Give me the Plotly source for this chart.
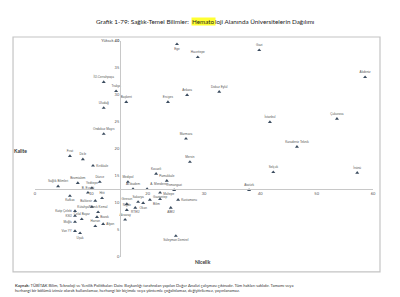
import plotly.graph_objects as go

# ---- data ----
universities = [
    "Ege", "Hacettepe", "Gazi", "Akdeniz", "İÜ-Cerrahpaşa", "Trakya", "Başkent", "Erciyes",
    "Ankara", "Dokuz Eylül", "Uludağ", "Ondokuz Mayıs", "Marmara", "İstanbul", "Çukurova",
    "Karadeniz Teknik", "Selçuk", "Atatürk", "Mersin", "İnönü", "Kocaeli", "Pamukkale",
    "A. Menderes", "Osmangazi", "Gaziantep", "Fırat", "Dicle", "Kırıkkale", "Medipol",
    "Düzce", "Bezmialem", "Sağlık Bilimleri", "Yeditepe", "Acıbadem", "Kafkas",
    "B. Ecevit", "Balıkesir", "Hitit", "Kütahya", "Katip Çelebi", "Namık Kemal",
    "KSÜ", "Bozok", "Muğla", "Celal Bayar", "Harran", "Afyon", "Van YY", "Uşak",
    "Giresun", "Niğde", "Aksaray", "Sakarya", "Bilim", "Okan", "Maltepe", "Kastamonu",
    "AİBÜ", "RTEÜ", "Süleyman Demirel",
]
nicelik = [
    25.2, 28.9, 39.8, 58.6, 12.2, 14.4, 16.2, 23.6,
    27.0, 32.7, 12.2, 12.2, 26.8, 41.7, 53.6,
    46.5, 42.3, 38.0, 27.5, 57.2, 21.5, 23.4,
    19.9, 24.7, 22.2, 6.2, 8.5, 10.3, 16.5,
    11.5, 7.6, 4.1, 10.1, 17.4, 6.2,
    9.4, 10.7, 11.9, 10.1, 7.1, 11.2,
    7.1, 11.0, 7.1, 8.3, 10.7, 12.1, 7.1, 8.0,
    16.3, 16.3, 16.0, 18.3, 20.4, 19.2, 22.2, 25.4,
    24.1, 17.8, 25.0,
]
kalite = [
    39.4, 37.0, 38.3, 33.3, 32.4, 30.7, 28.7, 28.7,
    30.0, 30.6, 27.6, 22.8, 21.9, 25.0, 25.6,
    20.4, 15.7, 12.4, 17.6, 15.6, 15.4, 14.1,
    12.6, 12.4, 11.9, 18.7, 18.1, 16.9, 13.9,
    13.9, 13.7, 13.1, 12.8, 12.6, 11.3,
    11.9, 10.4, 10.9, 9.3, 8.5, 8.3,
    7.6, 7.4, 6.5, 7.0, 5.7, 6.1, 4.8, 4.4,
    9.8, 8.7, 6.9, 10.2, 10.6, 10.0, 10.7, 10.6,
    9.1, 9.1, 3.9,
]
x_ticks = [0, 10, 20, 30, 40, 50, 60]
y_ticks = [0, 5, 10, 15, 20, 25, 30, 35, 40]
y_tick_labels = ["0", "5", "10", "15", "20", "25", "30", "35", "Yüksek <b>40</b>"]
x_cross = 15.1   # where the vertical (Kalite) axis crosses
y_cross = 12.6   # where the horizontal (Nicelik) axis crosses

# label placement (style)
text_pos = ["top center"] * len(universities)
for i in (0, 57, 58, 59, 48, 24, 34, 54):
    text_pos[i] = "bottom center"
for i in (27, 56, 42, 46):
    text_pos[i] = "middle right"
for i in (36, 41, 43, 47, 38, 39):
    text_pos[i] = "middle left"
for i in (22, 55):
    text_pos[i] = "top right"
text_pos[53] = "bottom right"

X_RANGE = [0, 60]
Y_RANGE = [0, 40]

fig = go.Figure()
fig.add_trace(go.Scatter(
    x=nicelik, y=kalite, text=universities, mode="markers+text",
    textposition=text_pos,
    textfont=dict(size=3.1, color="#555555", family="Liberation Sans"),
    marker=dict(symbol="triangle-up", size=3.5, color="#3a4b5e"),
    cliponaxis=False, hoverinfo="text", showlegend=False,
))

font_family = "Lato"
title_y = 1.088
fig.add_annotation(xref="paper", yref="paper", x=0.4615, y=title_y, xanchor="right", yanchor="middle",
                   text="Grafik 1-79: Sağlık-Temel Bilimler: ", showarrow=False, borderpad=0,
                   font=dict(size=6.3, color="#222222", family=font_family))
fig.add_annotation(xref="paper", yref="paper", x=0.4615, y=title_y, xanchor="left", yanchor="middle",
                   text="Hemato", showarrow=False, borderpad=0, bgcolor="#ffff33",
                   font=dict(size=6.3, color="#222222", family=font_family))
fig.add_annotation(xref="paper", yref="paper", x=0.531, y=title_y, xanchor="left", yanchor="middle",
                   text="loji Alanında Üniversitelerin Dağılımı", showarrow=False, borderpad=0,
                   font=dict(size=6.3, color="#222222", family=font_family))

fig.add_annotation(xref="paper", yref="paper", x=-0.044, y=0.491, xanchor="center", yanchor="middle",
                   text="<b>Kalite</b>", showarrow=False, font=dict(size=5, color="#333333", family=font_family))
fig.add_annotation(xref="paper", yref="paper", x=0.497, y=-0.023, xanchor="center", yanchor="middle",
                   text="<b>Nicelik</b>", showarrow=False, font=dict(size=5, color="#333333", family=font_family))

fig.add_annotation(
    xref="paper", yref="paper", x=-0.065, y=-0.113, xanchor="left", yanchor="top", align="left",
    text=("<b>Kaynak:</b> TÜBİTAK Bilim, Teknoloji ve Yenilik Politikaları Daire Başkanlığı tarafından yapılan Değer Analizi "
          "çalışması çıktısıdır. Tüm hakları saklıdır. Tamamı veya<br>herhangi bir bölümü izinsiz olarak kullanılamaz, "
          "herhangi bir biçimde veya yöntemle çoğaltılamaz, değiştirilemez, yayınlanamaz."),
    showarrow=False, font=dict(size=4.1, color="#333333", family=font_family))

fig.add_shape(type="rect", xref="paper", yref="paper", x0=-0.065, x1=1.0207, y0=-0.069, y1=1.0185,
              line=dict(color="#c4c4c4", width=1.2), layer="below")

x_pos = (x_cross - X_RANGE[0]) / (X_RANGE[1] - X_RANGE[0])
y_pos = (y_cross - Y_RANGE[0]) / (Y_RANGE[1] - Y_RANGE[0])

fig.update_layout(
    width=400, height=297,
    margin=dict(l=35, r=27, t=41, b=40, autoexpand=False),
    paper_bgcolor="white", plot_bgcolor="white",
    xaxis=dict(range=X_RANGE, tickvals=x_ticks, showgrid=False, zeroline=False,
               showline=True, linecolor="#c8c8c8", linewidth=1, anchor="free", position=y_pos,
               ticks="", tickfont=dict(size=4, color="#555555", family=font_family), automargin=False),
    yaxis=dict(range=Y_RANGE, tickvals=y_ticks, ticktext=y_tick_labels, showgrid=False, zeroline=False,
               showline=True, linecolor="#c8c8c8", linewidth=1, anchor="free", position=x_pos,
               ticks="", tickfont=dict(size=4, color="#555555", family=font_family), automargin=False),
)

fig.write_html("out.html")
